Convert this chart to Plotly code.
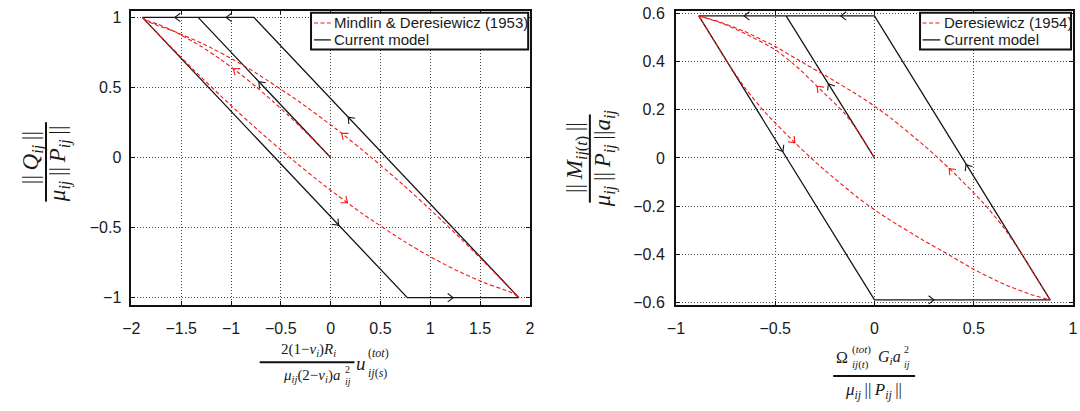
import math
import plotly.graph_objects as go

W, H = 1080, 411

# ---------------- left panel: normal/tangential (Mindlin & Deresiewicz 1953) ----------------
md_init_x = [0, -0.136, -0.276, -0.423, -0.578, -0.740, -0.914, -1.104, -1.316, -1.570, -1.729, -1.853, -1.890]
md_init_y = [0, 0.1, 0.2, 0.3, 0.4, 0.5, 0.6, 0.7, 0.8, 0.9, 0.95, 0.98, 1.0]
md_unload_x = [-1.890, -1.755, -1.618, -1.338, -1.044, -0.736, -0.410, -0.062, 0.318, 0.742, 0.981, 1.248, 1.567, 1.768, 1.845, 1.890]
md_unload_y = [1.0, 0.9, 0.8, 0.6, 0.4, 0.2, 0.0, -0.2, -0.4, -0.6, -0.7, -0.8, -0.9, -0.95, -0.975, -1.0]
md_reload_x = [1.890, 1.755, 1.618, 1.338, 1.044, 0.736, 0.410, 0.062, -0.318, -0.742, -0.981, -1.248, -1.567, -1.768, -1.845, -1.890]
md_reload_y = [-1.0, -0.9, -0.8, -0.6, -0.4, -0.2, 0.0, 0.2, 0.4, 0.6, 0.7, 0.8, 0.9, 0.95, 0.975, 1.0]
cm_left_x = [0, -1.33, -1.89, 0.77, 1.89, -0.77, -1.89]
cm_left_y = [0, 1, 1, -1, -1, 1, 1]

# arrow marks on the left panel (position + travel direction)
l_black_arrow_x = [-1.564, -1.049, -0.72, 0.08, 1.23, 0.177]
l_black_arrow_y = [1, 1, 0.541, -0.484, -1, 0.288]
l_black_arrow_dx = [-1, -1, -1.33, 1.33, 1, -1.33]
l_black_arrow_dy = [0, 0, 1, -1, 0, 1]
l_red_arrow_x = [-0.977, 0.11, 0.17]
l_red_arrow_y = [0.634, 0.173, -0.323]
l_red_arrow_dx = [-1.865, -1.79, 1.79]
l_red_arrow_dy = [1, 1, -1]

# ---------------- right panel: torsion (Deresiewicz 1954) ----------------
dr_init_x = [0, -0.08, -0.153, -0.289, -0.38, -0.5, -0.65, -0.78, -0.885]
dr_init_y = [0, 0.107, 0.187, 0.297, 0.37, 0.449, 0.515, 0.562, 0.589]
dr_unload_x = [-0.885, -0.80, -0.731, -0.649, -0.55, -0.401, -0.32, -0.252, -0.086, 0.0, 0.079, 0.245, 0.344, 0.5, 0.656, 0.788, 0.885]
dr_unload_y = [0.589, 0.476, 0.385, 0.287, 0.188, 0.063, 0.0, -0.050, -0.163, -0.215, -0.258, -0.341, -0.387, -0.462, -0.525, -0.566, -0.589]
dr_reload_x = [0.885, 0.80, 0.731, 0.649, 0.55, 0.401, 0.32, 0.252, 0.086, 0.0, -0.079, -0.245, -0.344, -0.5, -0.656, -0.788, -0.885]
dr_reload_y = [-0.589, -0.476, -0.385, -0.287, -0.188, -0.063, 0.0, 0.050, 0.163, 0.215, 0.258, 0.341, 0.387, 0.462, 0.525, 0.566, 0.589]
cm_right_x = [0, -0.445, -0.885, 0, 0.885, 0, -0.885]
cm_right_y = [0, 0.589, 0.589, -0.589, -0.589, 0.589, 0.589]

r_black_arrow_x = [-0.232, -0.657, -0.17, -0.461, 0.30, 0.461]
r_black_arrow_y = [0.308, 0.589, 0.589, 0.027, -0.589, -0.027]
r_black_arrow_dx = [-0.754, -1, -1, 0.754, 1, -0.754]
r_black_arrow_dy = [1, 0, 0, -1, 0, 1]
r_red_arrow_x = [-0.289, -0.401, 0.376]
r_red_arrow_y = [0.297, 0.063, -0.044]
r_red_arrow_dx = [-1.24, 1.2, -1.2]
r_red_arrow_dy = [1, -1, 1]

# ticks
LX_vals = [-2, -1.5, -1, -0.5, 0, 0.5, 1, 1.5, 2]
LX_text = ["\u22122", "\u22121.5", "\u22121", "\u22120.5", "0", "0.5", "1", "1.5", "2"]
LY_vals = [-1, -0.5, 0, 0.5, 1]
LY_text = ["\u22121", "\u22120.5", "0", "0.5", "1"]
RX_vals = [-1, -0.5, 0, 0.5, 1]
RX_text = ["\u22121", "\u22120.5", "0", "0.5", "1"]
RY_vals = [-0.6, -0.4, -0.2, 0, 0.2, 0.4, 0.6]
RY_text = ["\u22120.6", "\u22120.4", "\u22120.2", "0", "0.2", "0.4", "0.6"]

legend_left = ["Mindlin & Deresiewicz (1953)", "Current model"]
legend_right = ["Deresiewicz (1954)", "Current model"]

# ---------------- layout geometry (pixels) ----------------
L_DOM_X = (124.0, 527.7)
L_DOM_Y = (4.7, 308.3)
R_DOM_X = (675.7, 1078.0)
R_DOM_Y = (5.5, 308.3)
L_RX = [-2, 2]
L_RY = [-1.049, 1.049]
R_RX = [-1, 1]
R_RY = [-0.608, 0.608]

RED = "#f01818"
BLACK = "#151515"
TXT = "#1a1a1a"
SANS = "Liberation Sans, Arial, sans-serif"
SERIF = "Liberation Serif, Times New Roman, serif"


def fx(px):
    return px / W


def fy(py):
    return 1 - py / H


fig = go.Figure()

# black (current model) first, red on top
fig.add_trace(go.Scatter(x=cm_left_x, y=cm_left_y, mode="lines", name=legend_left[1],
                         line=dict(color=BLACK, width=1.3), xaxis="x", yaxis="y", showlegend=False))
fig.add_trace(go.Scatter(x=cm_right_x, y=cm_right_y, mode="lines", name=legend_right[1],
                         line=dict(color=BLACK, width=1.3), xaxis="x2", yaxis="y2", showlegend=False))

red_line = dict(color=RED, width=1.1, dash="4px,2.5px", shape="spline", smoothing=0.6)
for xs, ys in [(md_init_x, md_init_y), (md_unload_x, md_unload_y), (md_reload_x, md_reload_y)]:
    fig.add_trace(go.Scatter(x=xs, y=ys, mode="lines", name=legend_left[0], line=red_line,
                             xaxis="x", yaxis="y", showlegend=False))
for xs, ys in [(dr_init_x, dr_init_y), (dr_unload_x, dr_unload_y), (dr_reload_x, dr_reload_y)]:
    fig.add_trace(go.Scatter(x=xs, y=ys, mode="lines", name=legend_right[0], line=red_line,
                             xaxis="x2", yaxis="y2", showlegend=False))

l_sx = (L_DOM_X[1] - L_DOM_X[0]) / (L_RX[1] - L_RX[0])
l_sy = (L_DOM_Y[1] - L_DOM_Y[0]) / (L_RY[1] - L_RY[0])
r_sx = (R_DOM_X[1] - R_DOM_X[0]) / (R_RX[1] - R_RX[0])
r_sy = (R_DOM_Y[1] - R_DOM_Y[0]) / (R_RY[1] - R_RY[0])


# ---------- open chevron arrow heads (MATLAB style) along the paths ----------
def add_chevrons(xs, ys, dxs, dys, xa, ya, sx, sy, color, arm=7.0, half_angle=38.0):
    cx, cy = [], []
    th = math.radians(half_angle)
    for x, y, dx, dy in zip(xs, ys, dxs, dys):
        pdx, pdy = dx * sx, -dy * sy          # travel direction in screen px
        n = math.hypot(pdx, pdy)
        bx, by = -pdx / n, -pdy / n           # pointing backwards
        pts = []
        for s in (1, -1):
            c, si = math.cos(s * th), math.sin(s * th)
            ex, ey = (bx * c - by * si) * arm, (bx * si + by * c) * arm
            pts.append((x + ex / sx, y - ey / sy))
        cx += [pts[0][0], x, pts[1][0], None]
        cy += [pts[0][1], y, pts[1][1], None]
    fig.add_trace(go.Scatter(x=cx, y=cy, mode="lines", line=dict(color=color, width=1.1),
                             xaxis=xa, yaxis=ya, showlegend=False, hoverinfo="skip"))


add_chevrons(l_black_arrow_x, l_black_arrow_y, l_black_arrow_dx, l_black_arrow_dy, "x", "y", l_sx, l_sy, BLACK)
add_chevrons(l_red_arrow_x, l_red_arrow_y, l_red_arrow_dx, l_red_arrow_dy, "x", "y", l_sx, l_sy, RED)
add_chevrons(r_black_arrow_x, r_black_arrow_y, r_black_arrow_dx, r_black_arrow_dy, "x2", "y2", r_sx, r_sy, BLACK)
add_chevrons(r_red_arrow_x, r_red_arrow_y, r_red_arrow_dx, r_red_arrow_dy, "x2", "y2", r_sx, r_sy, RED)


def axis_common():
    return dict(showline=True, linewidth=1.8, linecolor="#111", mirror="ticks",
                ticks="inside", ticklen=4, tickwidth=1, tickcolor="#111",
                showgrid=True, gridcolor="#444", gridwidth=1, griddash="1px,2px",
                zeroline=False, tickfont=dict(family=SANS, size=16, color=TXT),
                ticklabeloverflow="allow", fixedrange=True)


fig.update_layout(
    width=W, height=H, margin=dict(l=0, r=0, t=0, b=0),
    paper_bgcolor="white", plot_bgcolor="white", showlegend=False,
    xaxis=dict(domain=[fx(L_DOM_X[0]), fx(L_DOM_X[1])], range=L_RX, anchor="y",
               tickvals=LX_vals, ticktext=LX_text, ticklabelstandoff=8, **axis_common()),
    yaxis=dict(domain=[fy(L_DOM_Y[1]), fy(L_DOM_Y[0])], range=L_RY, anchor="x",
               tickvals=LY_vals, ticktext=LY_text, ticklabelstandoff=5, **axis_common()),
    xaxis2=dict(domain=[fx(R_DOM_X[0]), fx(R_DOM_X[1])], range=R_RX, anchor="y2",
                tickvals=RX_vals, ticktext=RX_text, ticklabelstandoff=8, **axis_common()),
    yaxis2=dict(domain=[fy(R_DOM_Y[1]), fy(R_DOM_Y[0])], range=R_RY, anchor="x2",
                tickvals=RY_vals, ticktext=RY_text, ticklabelstandoff=6, **axis_common()),
)

annotations = []
shapes = []


# ---------- legends (boxed, MATLAB style) ----------
def legend_box(x0, x1, y0, y1, labels, rows_y, sample_x0, sample_x1, text_x):
    shapes.append(dict(type="rect", xref="paper", yref="paper", x0=fx(x0), x1=fx(x1), y0=fy(y1), y1=fy(y0),
                       line=dict(color="#111", width=2), fillcolor="white", layer="above"))
    styles = [dict(color=RED, width=1.1, dash="4px,2.5px"), dict(color=BLACK, width=1.3)]
    for lab, ry, st in zip(labels, rows_y, styles):
        shapes.append(dict(type="line", xref="paper", yref="paper", x0=fx(sample_x0), x1=fx(sample_x1),
                           y0=fy(ry), y1=fy(ry), line=st, layer="above"))
        annotations.append(dict(x=fx(text_x), y=fy(ry), xref="paper", yref="paper", text=lab,
                                showarrow=False, xanchor="left", yanchor="middle",
                                font=dict(family=SANS, size=15, color=TXT)))


legend_box(306, 526, 7, 45, legend_left, [17.5, 35], 309, 326, 327)
legend_box(923, 1076, 7, 45, legend_right, [17.5, 35], 925.5, 943.5, 945)


# ---------- math-style axis titles ----------
def txt(px, py, s, size=15, xa="center", ya="middle", angle=0):
    annotations.append(dict(x=fx(px), y=fy(py), xref="paper", yref="paper", text=s, showarrow=False,
                            xanchor=xa, yanchor=ya, textangle=angle,
                            font=dict(family=SERIF, size=size, color=TXT)))


def bar(x0, y0, x1, y1):
    shapes.append(dict(type="line", xref="paper", yref="paper", x0=fx(x0), y0=fy(y0), x1=fx(x1), y1=fy(y1),
                       line=dict(color="#111", width=2)))


HS = "\u2009"
# left y title
txt(23.5, 157, "||" + HS + "<i>Q</i><sub><i>ij</i></sub>" + HS + "||", size=23, angle=-90)
bar(37.5, 120, 37.5, 202)
txt(52, 163, "<i>\u03bc</i><sub><i>ij</i></sub>" + HS + "||" + HS + "<i>P</i><sub><i>ij</i></sub>" + HS + "||",
    size=23, angle=-90)

# right y title
txt(574.5, 157, "||" + HS + "<i>M</i><sub><i>ij</i>(<i>t</i>)</sub>" + HS + "||", size=23, angle=-90)
bar(588.5, 112, 588.5, 203)
txt(603, 157, "<i>\u03bc</i><sub><i>ij</i></sub>" + HS + "||" + HS + "<i>P</i><sub><i>ij</i></sub>" + HS + "||"
    + "<i>a</i><sub><i>ij</i></sub>", size=23, angle=-90)

# left x title
txt(303, 355, "2(1\u2212<i>\u03bd</i><sub><i>i</i></sub>)<i>R</i><sub><i>i</i></sub>", size=15)
bar(254, 368, 350, 368)
txt(337, 382, "<i>\u03bc</i><sub><i>ij</i></sub>(2\u2212<i>\u03bd</i><sub><i>i</i></sub>)<i>a</i>", size=15, xa="right")
txt(338, 375, "2", size=10, xa="left")
txt(338, 388, "<i>ij</i>", size=10, xa="left")
txt(350, 369, "<i>u</i>", size=19, xa="left")
txt(362, 358, "(<i>tot</i>)", size=12, xa="left")
txt(362, 379, "<i>ij</i>(<i>s</i>)", size=12, xa="left")

# right x title
txt(844, 363, "\u03a9", size=16)
txt(852, 355, "(<i>tot</i>)", size=11, xa="left")
txt(852, 370, "<i>ij</i>(<i>t</i>)", size=11, xa="left")
txt(878, 363, "<i>G</i><sub><i>i</i></sub><i>a</i>", size=16, xa="left")
txt(905, 355, "2", size=10, xa="left")
txt(905, 370, "<i>ij</i>", size=10, xa="left")
bar(835, 382, 918, 382)
txt(876, 398, "<i>\u03bc</i><sub><i>ij</i></sub>" + HS + "||" + HS + "<i>P</i><sub><i>ij</i></sub>" + HS + "||", size=17)

fig.update_layout(annotations=annotations, shapes=shapes)
fig.write_html("out.html", config={"displayModeBar": False},
               post_script="document.body.style.margin='0';document.body.style.padding='0';")
